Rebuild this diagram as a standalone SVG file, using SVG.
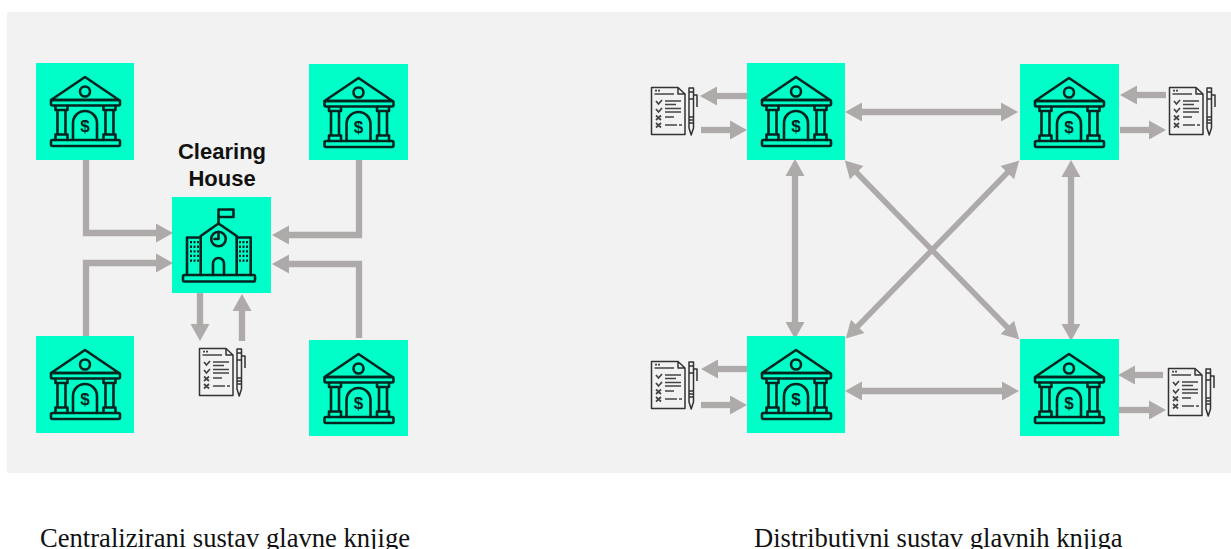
<svg xmlns="http://www.w3.org/2000/svg" width="1231" height="549" viewBox="0 0 1231 549">
<style>
.box{fill:#00ffc8}
.ic{fill:none;stroke:#04241f;stroke-width:2.600;stroke-linejoin:round;stroke-linecap:round}
.dc{fill:none;stroke:#333;stroke-width:1.500;stroke-linejoin:round}
.dl{fill:none;stroke:#444;stroke-width:1.700}
.c{fill:none;stroke:#aeaaaa;stroke-width:6.300}
.d{fill:none;stroke:#aeaaaa;stroke-width:5.500}
.cap{font-family:"Liberation Serif",serif;font-size:26.600px;fill:#111}
.lbl{font-family:"Liberation Sans",Arial,sans-serif;font-size:22px;font-weight:bold;fill:#111;text-anchor:middle}
.dol{font-family:"Liberation Sans",Arial,sans-serif;font-size:17px;font-weight:bold;fill:#04241f;text-anchor:middle}
</style>
<defs>
<marker id="a" markerUnits="userSpaceOnUse" markerWidth="20" markerHeight="20" viewBox="0 0 20 20" refX="1" refY="10" orient="auto-start-reverse"><path d="M0,0.500L17,10L0,19.500z" fill="#aeaaaa"/></marker>
<symbol id="bank" width="98" height="97" viewBox="0 0 98 97" overflow="visible">
<g class="ic">
<path d="M49,14L15,37H83z"/><circle cx="49" cy="28.500" r="5"/>
<rect x="15" y="37" width="69" height="5.500" rx="1.500"/>
<rect x="15" y="77" width="69" height="6" rx="1.500"/>
<path d="M19.500,43V47H31.500V43M21.500,47V71.500M29.500,47V71.500M19.500,77V71.500H31.500V77"/>
<path d="M67.500,43V47H79.500V43M69.500,47V71.500M77.500,47V71.500M67.500,77V71.500H79.500V77"/>
<path d="M37,77V60A12,12 0 0 1 61,60V77"/>
</g>
<text class="dol" x="49" y="69">$</text>
</symbol>
<symbol id="doc" width="47" height="49" viewBox="0 0 47 49" overflow="visible">
<path class="dc" d="M0.500,0.500H27L34,7V47.500H0.500zM27,0.500V7H34"/>
<path class="dl" d="M3.500,7H23M14,14H30M14,17.500H25M14,21.500H30M14,25H30M14,30H23M14,38H26M28,38H31"/>
<path class="dl" d="M4,3.600H10" stroke-dasharray="2 1"/>
<path class="dl" d="M5,14L7.500,17L11,13M5,22L7.500,25L11,21M5,28.500L10,33M10,28.500L5,33M5,36L10,40.500M10,36L5,40.500"/>
<path class="dc" stroke-width="1.800" d="M38,5V1H42.500V5zM38,5H42.500V41L40.200,48L38,41zM38,12H42.500M38,30H42.500M38,33H42.500M38,36H42.500M42.500,8H46V20"/>
</symbol>
</defs>
<rect x="7" y="12" width="1224" height="461" fill="#f2f2f2"/>
<g id="connectors">
<path class="c" marker-end="url(#a)" d="M86,160V233H157"/>
<path class="c" marker-end="url(#a)" d="M86,336V263H157"/>
<path class="c" marker-end="url(#a)" d="M359,160V235H288"/>
<path class="c" marker-end="url(#a)" d="M359,338V264H288"/>
<path class="c" marker-end="url(#a)" d="M200,293V325"/>
<path class="c" marker-end="url(#a)" d="M242,341V310"/>
<path class="c" marker-end="url(#a)" d="M747,96H716"/>
<path class="c" marker-end="url(#a)" d="M701,130H731"/>
<path class="c" marker-end="url(#a)" d="M1166,95H1136"/>
<path class="c" marker-end="url(#a)" d="M1120,130H1150"/>
<path class="c" marker-end="url(#a)" d="M747,369H717"/>
<path class="c" marker-end="url(#a)" d="M701,405H731"/>
<path class="c" marker-end="url(#a)" d="M1163,375H1134"/>
<path class="c" marker-end="url(#a)" d="M1119,410H1150"/>
<path class="c" marker-start="url(#a)" marker-end="url(#a)" d="M861,112H1002"/>
<path class="c" marker-start="url(#a)" marker-end="url(#a)" d="M861,391H1003"/>
<path class="c" marker-start="url(#a)" marker-end="url(#a)" d="M795,175V323"/>
<path class="c" marker-start="url(#a)" marker-end="url(#a)" d="M1071,176V325"/>
<path class="d" marker-start="url(#a)" marker-end="url(#a)" d="M856,172L1008,328"/>
<path class="d" marker-start="url(#a)" marker-end="url(#a)" d="M1008,172L857,327"/>
</g>
<g id="bank-a1"><rect class="box" x="36" y="63" width="98" height="97"/><use href="#bank" x="36" y="63"/></g>
<g id="bank-a2"><rect class="box" x="309" y="64" width="99" height="96"/><use href="#bank" x="309.500" y="64"/></g>
<g id="bank-a3"><rect class="box" x="36" y="336" width="98" height="97"/><use href="#bank" x="36" y="336"/></g>
<g id="bank-a4"><rect class="box" x="309" y="340" width="99" height="96"/><use href="#bank" x="309.500" y="340"/></g>
<g id="clearing-house">
<rect class="box" x="172" y="197" width="99" height="96"/>
<g class="ic">
<rect x="183" y="275" width="72" height="6.500" rx="1.500"/>
<path d="M200.700,237.500H187V275M236.700,237.500H250.700V275"/>
<path d="M200.700,275V236L218.500,223.500L236.700,236V275"/>
<circle cx="218.500" cy="239" r="7.300"/><path d="M218.500,234V239H214.500"/>
<path d="M213,275V263.500A5.500,5.500 0 0 1 224,263.500V275"/>
<path d="M218.500,223.500V209.500H233.500V217H218.500"/>
</g>
<path d="M191,241V264M194.500,241V264M198,241V264M240,241V264M243.500,241V264M247,241V264" fill="none" stroke="#04241f" stroke-width="2" stroke-dasharray="2.300 2.300"/>
</g>
<g id="clearing-label"><text class="lbl" x="222" y="159">Clearing</text><text class="lbl" x="222" y="186">House</text></g>
<g id="doc-c"><use href="#doc" x="199" y="348"/></g>
<g id="bank-b1"><rect class="box" x="747" y="63" width="98" height="97"/><use href="#bank" x="747" y="63"/></g>
<g id="bank-b2"><rect class="box" x="1020" y="64" width="99" height="96"/><use href="#bank" x="1020" y="64"/></g>
<g id="bank-b3"><rect class="box" x="747" y="336" width="98" height="97"/><use href="#bank" x="747" y="336"/></g>
<g id="bank-b4"><rect class="box" x="1020" y="339" width="99" height="97"/><use href="#bank" x="1020" y="340"/></g>
<g id="doc-b1"><use href="#doc" x="651" y="87"/></g>
<g id="doc-b2"><use href="#doc" x="1169" y="87"/></g>
<g id="doc-b3"><use href="#doc" x="651" y="361"/></g>
<g id="doc-b4"><use href="#doc" x="1168" y="368"/></g>
<text class="cap" x="40" y="547">Centralizirani sustav glavne knjige</text>
<text class="cap" x="754" y="547">Distributivni sustav glavnih knjiga</text>
</svg>
